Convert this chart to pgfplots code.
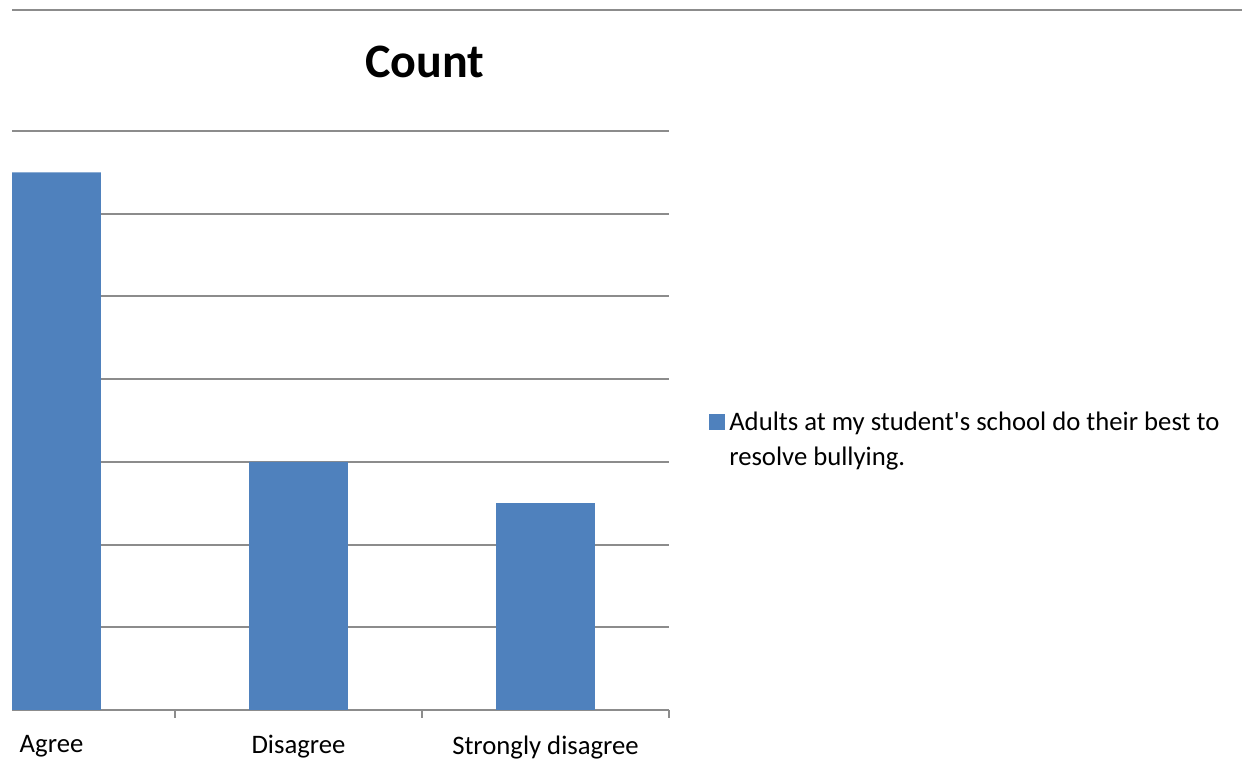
\documentclass[border=0pt]{standalone}
\usepackage{pgfplots}
\pgfplotsset{compat=1.18}
\usepackage{fontspec}
\setmainfont{Carlito}
\definecolor{barblue}{HTML}{4F81BD}
\definecolor{gridgray}{HTML}{8C8C8C}
\begin{document}
\begin{tikzpicture}[x=1bp,y=1bp]
\useasboundingbox (0,0) rectangle (1242,775);
\draw[gridgray, line width=2bp] (12,765) -- (1242,765);
\node[font=\fontsize{48bp}{54bp}\selectfont\bfseries] at (425,713) {Count};
\begin{axis}[
  at={(12bp,65bp)}, anchor=south west,
  scale only axis, width=657bp, height=579bp,
  xmin=-0.16, xmax=2.5, ymin=0, ymax=7,
  axis x line=bottom, axis y line=left,
  x axis line style={gridgray, line width=1.5bp, -},
  y axis line style={draw=none},
  ytick={1,2,3,4,5,6,7}, yticklabels={},
  ytick style={draw=none},
  ymajorgrids, grid style={gridgray, line width=2bp},
  xtick={0,1,2}, xticklabels={Agree,Disagree,Strongly disagree},
  major tick length=0pt,
  extra x ticks={0.5,1.5,2.5}, extra x tick labels={},
  extra x tick style={major tick length=8bp, tick align=outside, tick style={gridgray, line width=1.5bp}},
  x tick label style={font=\fontsize{26.7bp}{30bp}\selectfont, yshift=-22bp},
  legend style={at={(1.061,0.497)}, anchor=west, draw=none, fill=none,
    font=\fontsize{26.7bp}{35bp}\selectfont, inner sep=0pt},
  legend image code/.code={\fill[barblue] (0bp,-8bp) rectangle (16bp,8bp);},
  legend cell align=left,
]
\addplot[ybar, bar width=0.4, bar shift=0pt, fill=barblue, draw=none]
  coordinates {(0,6.5) (1,3) (2,2.5)};
\addlegendentry{\parbox[t]{520bp}{\baselineskip=35bp \hspace*{2bp}Adults at my student\textquotesingle s school do their best to\\\hspace*{2bp}resolve bullying.}}
\end{axis}
\end{tikzpicture}
\end{document}
